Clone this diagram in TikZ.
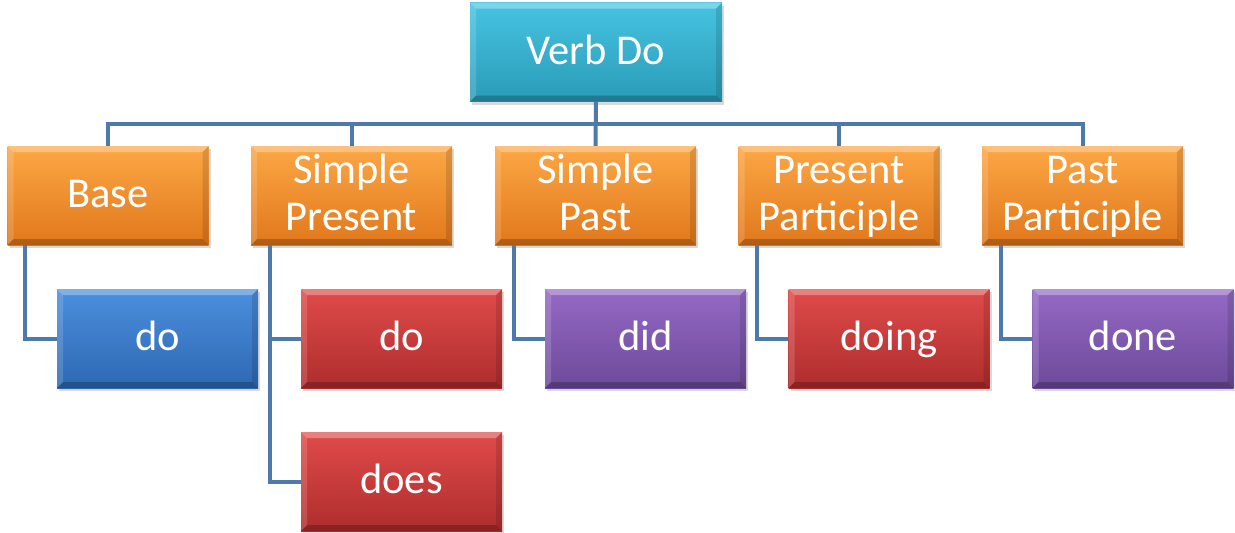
\documentclass[tikz,border=0pt]{standalone}
\usepackage{fontspec}
\setmainfont{Carlito}
\usetikzlibrary{shadows}

\definecolor{verbtop}{HTML}{46C4E2}
\definecolor{verbbot}{HTML}{2A9BB7}
\definecolor{formtop}{HTML}{FCA745}
\definecolor{formbot}{HTML}{E0781C}
\definecolor{basetop}{HTML}{4B8FDD}
\definecolor{basebot}{HTML}{2E68B2}
\definecolor{redtop}{HTML}{E04B4A}
\definecolor{redbot}{HTML}{AE2D2D}
\definecolor{purpletop}{HTML}{9569C5}
\definecolor{purplebot}{HTML}{6C4A9A}
\definecolor{linkblue}{HTML}{4D79AD}

\tikzset{
  bevel/.style={path picture={
    \fill[white, opacity=0.3] (path picture bounding box.north west) -- (path picture bounding box.north east)
      -- ([xshift=-6pt,yshift=-6pt]path picture bounding box.north east) -- ([xshift=6pt,yshift=-6pt]path picture bounding box.north west) -- cycle;
    \fill[white, opacity=0.15] (path picture bounding box.north west) -- ([xshift=6pt,yshift=-6pt]path picture bounding box.north west)
      -- ([xshift=6pt,yshift=6pt]path picture bounding box.south west) -- (path picture bounding box.south west) -- cycle;
    \fill[black, opacity=0.22] (path picture bounding box.south west) -- (path picture bounding box.south east)
      -- ([xshift=-6pt,yshift=6pt]path picture bounding box.south east) -- ([xshift=6pt,yshift=6pt]path picture bounding box.south west) -- cycle;
    \fill[black, opacity=0.12] (path picture bounding box.north east) -- ([xshift=-6pt,yshift=-6pt]path picture bounding box.north east)
      -- ([xshift=-6pt,yshift=6pt]path picture bounding box.south east) -- (path picture bounding box.south east) -- cycle;
  }}
}

\tikzstyle{box} = [rectangle, minimum width=201pt, minimum height=99pt, inner sep=0pt, text centered, align=center, text=white, font=\fontsize{42.5}{47}\selectfont, text height=32pt, text depth=8pt, bevel, drop shadow={opacity=0.3, shadow xshift=2pt, shadow yshift=-3pt}]
\tikzstyle{twoline} = [text height=77pt]
\tikzstyle{head} = [box, minimum width=252pt, top color=verbtop, bottom color=verbbot]
\tikzstyle{form} = [box, top color=formtop, bottom color=formbot]
\tikzstyle{blueform} = [box, top color=basetop, bottom color=basebot]
\tikzstyle{redform} = [box, top color=redtop, bottom color=redbot]
\tikzstyle{purpleform} = [box, top color=purpletop, bottom color=purplebot]
\tikzstyle{link} = [line width=4pt, draw=linkblue]

\begin{document}
\begin{tikzpicture}[x=1pt, y=-1pt]
\useasboundingbox (0,0) rectangle (1235,533);

% Define nodes
\node (verb) [head] at (596,52) {Verb Do};
\node (base) [form] at (108,195.5) {Base};
\node (simplepres) [form, twoline] at (351.5,195.5) {Simple\\Present};
\node (simplepast) [form, twoline] at (595.5,195.5) {Simple\\Past};
\node (prespart) [form, twoline] at (839,195.5) {Present\\Participle};
\node (pastpart) [form, twoline] at (1082.5,195.5) {Past\\Participle};

\node (basedo) [blueform] at (157.5,338.5) {do};
\node (presdo) [redform] at (401.5,338.5) {do};
\node (presdoes) [redform] at (401.5,481.5) {does};
\node (pastdid) [purpleform] at (645.5,338.5) {did};
\node (partdoing) [redform] at (889,338.5) {doing};
\node (partdone) [purpleform] at (1133,338.5) {done};

\coordinate (bus) at (596,124);

% Draw links
\draw [link] (verb.south) -- (verb.south |- bus) -| (base.north);
\draw [link] (verb.south) -- (verb.south |- bus) -| (simplepres.north);
\draw [link] (verb.south) -- (simplepast.north);
\draw [link] (verb.south) -- (verb.south |- bus) -| (prespart.north);
\draw [link] (verb.south) -- (verb.south |- bus) -| (pastpart.north);

\draw [link] ([xshift=18pt]base.south west) |- (basedo.west);
\draw [link] ([xshift=19pt]simplepres.south west) |- (presdo.west);
\draw [link] ([xshift=19pt]simplepres.south west) |- (presdoes.west);
\draw [link] ([xshift=19pt]simplepast.south west) |- (pastdid.west);
\draw [link] ([xshift=19pt]prespart.south west) |- (partdoing.west);
\draw [link] ([xshift=19pt]pastpart.south west) |- (partdone.west);

\end{tikzpicture}
\end{document}
